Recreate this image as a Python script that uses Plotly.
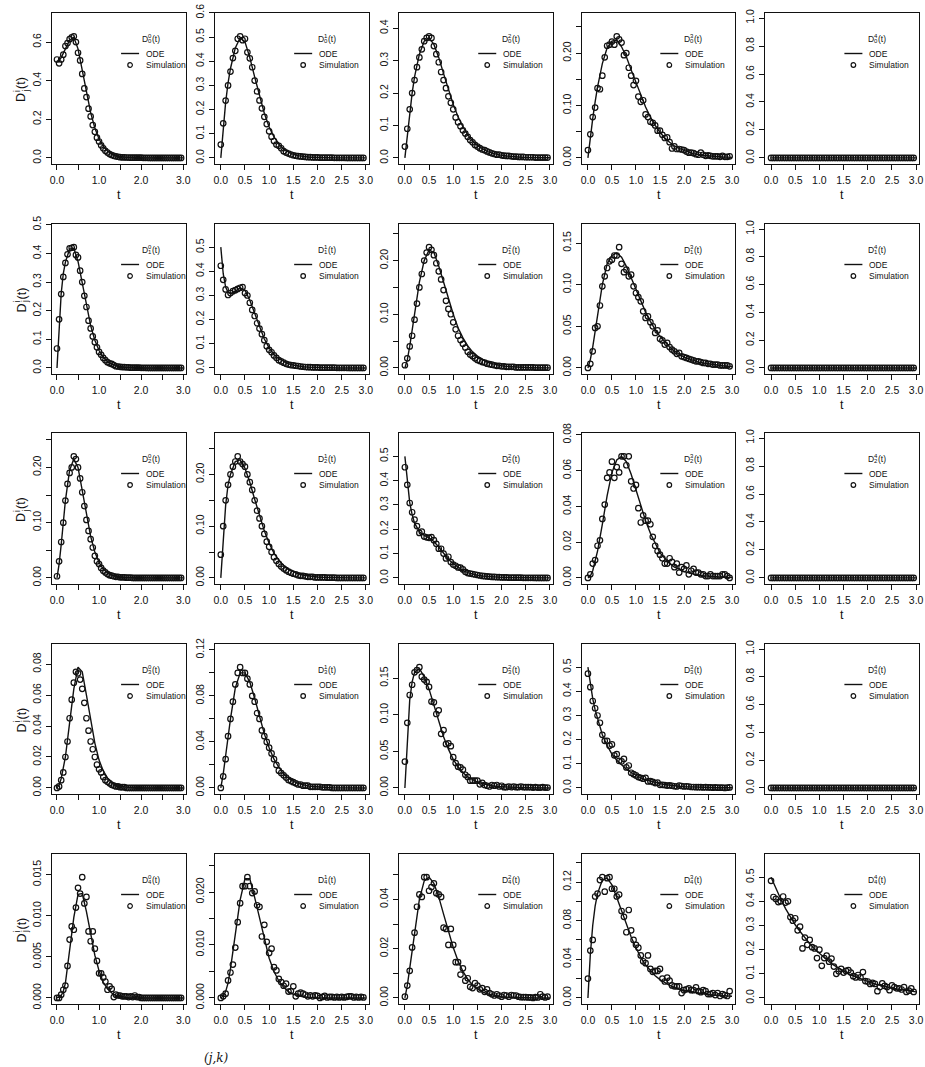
import plotly.graph_objects as go

# ---------------- data ----------------
t_sim = [0.00, 0.05, 0.10, 0.15, 0.20, 0.25, 0.30, 0.35, 0.40, 0.45,
         0.50, 0.55, 0.60, 0.65, 0.70, 0.75, 0.80, 0.85, 0.90, 0.95,
         1.00, 1.05, 1.10, 1.15, 1.20, 1.25, 1.30, 1.35, 1.40, 1.45,
         1.50, 1.55, 1.60, 1.65, 1.70, 1.75, 1.80, 1.85, 1.90, 1.95,
         2.00, 2.05, 2.10, 2.15, 2.20, 2.25, 2.30, 2.35, 2.40, 2.45,
         2.50, 2.55, 2.60, 2.65, 2.70, 2.75, 2.80, 2.85, 2.90, 2.95]
t_ode = [0.0, 0.05, 0.1, 0.15, 0.2, 0.3, 0.4, 0.5, 0.6, 0.7, 0.8, 0.9, 1.0,
         1.1, 1.2, 1.3, 1.4, 1.5, 1.6, 1.7, 1.8, 1.9, 2.0, 2.1, 2.2, 2.3,
         2.4, 2.5, 2.6, 2.7, 2.8, 2.9, 3.0]

# row 0 (j = 0)
sim_00 = [0.51, 0.49, 0.51, 0.535, 0.58, 0.595, 0.615, 0.625, 0.63, 0.60,
          0.545, 0.505, 0.435, 0.36, 0.315, 0.255, 0.215, 0.17, 0.135, 0.105,
          0.085, 0.065, 0.05, 0.037, 0.028, 0.02, 0.015, 0.011, 0.008, 0.006,
          0.004, 0.003, 0.003, 0.002, 0.002, 0.001, 0.001, 0.001, 0.001, 0.001,
          0.001, 0.0005, 0.0005, 0.0005, 0, 0, 0, 0, 0, 0,
          0, 0, 0, 0, 0, 0, 0, 0, 0, 0]
ode_00 = [0.5, 0.505, 0.52, 0.54, 0.565, 0.61, 0.625, 0.565, 0.455, 0.34, 0.235,
          0.155, 0.098, 0.06, 0.036, 0.021, 0.012, 0.007, 0.004, 0.002, 0.001,
          0.0007, 0.0004, 0, 0, 0, 0, 0, 0, 0, 0, 0, 0]
sim_01 = [0.055, 0.143, 0.237, 0.30, 0.357, 0.413, 0.443, 0.493, 0.503, 0.487,
          0.493, 0.437, 0.412, 0.375, 0.32, 0.275, 0.238, 0.205, 0.17, 0.14,
          0.11, 0.088, 0.07, 0.055, 0.05, 0.04, 0.028, 0.022, 0.018, 0.014,
          0.011, 0.009, 0.007, 0.006, 0.005, 0.004, 0.003, 0.003, 0.002, 0.002,
          0.002, 0.001, 0.001, 0.001, 0.001, 0.001, 0.001, 0.0005, 0.0005, 0.0005,
          0.0005, 0.0005, 0, 0, 0, 0, 0, 0, 0, 0]
ode_01 = [0, 0.12, 0.23, 0.31, 0.37, 0.455, 0.497, 0.48, 0.415, 0.335, 0.255,
          0.185, 0.128, 0.087, 0.057, 0.037, 0.024, 0.015, 0.0095, 0.006, 0.004,
          0.0025, 0.0015, 0.001, 0.0006, 0, 0, 0, 0, 0, 0, 0, 0]
sim_02 = [0.035, 0.09, 0.15, 0.2, 0.24, 0.28, 0.31, 0.335, 0.36, 0.37,
          0.375, 0.37, 0.345, 0.32, 0.295, 0.265, 0.24, 0.215, 0.19, 0.17,
          0.15, 0.125, 0.11, 0.098, 0.085, 0.075, 0.065, 0.055, 0.048, 0.04,
          0.035, 0.03, 0.026, 0.024, 0.02, 0.017, 0.014, 0.012, 0.01, 0.01,
          0.008, 0.007, 0.006, 0.006, 0.005, 0.004, 0.004, 0.003, 0.003, 0.003,
          0.002, 0.002, 0.002, 0.002, 0.001, 0.001, 0.001, 0.001, 0.001, 0.001]
ode_02 = [0, 0.07, 0.14, 0.2, 0.25, 0.32, 0.36, 0.37, 0.35, 0.31, 0.26, 0.21,
          0.165, 0.127, 0.096, 0.071, 0.052, 0.038, 0.028, 0.02, 0.015, 0.011,
          0.008, 0.006, 0.0043, 0.0031, 0.0022, 0.0016, 0.0012, 0.0009, 0.0006,
          0.0004, 0.0003]
sim_03 = [0.015, 0.045, 0.078, 0.096, 0.133, 0.131, 0.157, 0.192, 0.214, 0.216,
          0.222, 0.216, 0.232, 0.226, 0.22, 0.196, 0.20, 0.172, 0.157, 0.139,
          0.147, 0.117, 0.107, 0.11, 0.083, 0.078, 0.069, 0.067, 0.062, 0.052,
          0.052, 0.044, 0.038, 0.039, 0.03, 0.018, 0.022, 0.017, 0.017, 0.016,
          0.015, 0.012, 0.01, 0.01, 0.009, 0.007, 0.006, 0.01, 0.006, 0.004,
          0.005, 0.004, 0.003, 0.003, 0.003, 0.002, 0.004, 0.002, 0.002, 0.003]
ode_03 = [0, 0.04, 0.075, 0.107, 0.135, 0.18, 0.21, 0.223, 0.225, 0.212, 0.193,
          0.168, 0.143, 0.118, 0.097, 0.078, 0.062, 0.049, 0.038, 0.03, 0.023,
          0.018, 0.014, 0.011, 0.008, 0.006, 0.005, 0.004, 0.003, 0.0024, 0.0018,
          0.0014, 0.001]
sim_04 = [0, 0, 0, 0, 0, 0, 0, 0, 0, 0, 0, 0, 0, 0, 0, 0, 0, 0, 0, 0,
          0, 0, 0, 0, 0, 0, 0, 0, 0, 0, 0, 0, 0, 0, 0, 0, 0, 0, 0, 0,
          0, 0, 0, 0, 0, 0, 0, 0, 0, 0, 0, 0, 0, 0, 0, 0, 0, 0, 0, 0]
ode_04 = [0, 0, 0, 0, 0, 0, 0, 0, 0, 0, 0, 0, 0, 0, 0, 0, 0, 0, 0, 0, 0, 0,
          0, 0, 0, 0, 0, 0, 0, 0, 0, 0, 0]

# row 1 (j = 1)
sim_10 = [0.068, 0.17, 0.258, 0.318, 0.367, 0.397, 0.418, 0.42, 0.422, 0.395,
          0.386, 0.34, 0.30, 0.252, 0.213, 0.165, 0.138, 0.11, 0.09, 0.072,
          0.056, 0.046, 0.035, 0.027, 0.02, 0.016, 0.014, 0.01, 0.006, 0.005,
          0.004, 0.003, 0.003, 0.002, 0.002, 0.001, 0.001, 0.001, 0.001, 0.001,
          0.0005, 0.0005, 0.0005, 0, 0, 0, 0, 0, 0, 0,
          0, 0, 0, 0, 0, 0, 0, 0, 0, 0]
ode_10 = [0, 0.14, 0.26, 0.33, 0.37, 0.415, 0.418, 0.372, 0.298, 0.218, 0.148,
          0.097, 0.061, 0.037, 0.022, 0.013, 0.008, 0.0045, 0.0025, 0.0015, 0.001,
          0.0006, 0.0003, 0, 0, 0, 0, 0, 0, 0, 0, 0, 0]
sim_11 = [0.423, 0.365, 0.325, 0.302, 0.31, 0.318, 0.322, 0.327, 0.332, 0.335,
          0.31, 0.30, 0.27, 0.24, 0.215, 0.185, 0.163, 0.14, 0.115, 0.09,
          0.075, 0.065, 0.052, 0.042, 0.032, 0.027, 0.022, 0.017, 0.014, 0.012,
          0.011, 0.009, 0.008, 0.006, 0.005, 0.004, 0.003, 0.003, 0.002, 0.002,
          0.002, 0.001, 0.001, 0.001, 0.001, 0.001, 0.001, 0.001, 0.0005, 0.0005,
          0.0005, 0.0005, 0.0005, 0, 0, 0, 0, 0, 0, 0]
ode_11 = [0.5, 0.39, 0.335, 0.312, 0.308, 0.318, 0.332, 0.322, 0.28, 0.225, 0.168,
          0.12, 0.083, 0.056, 0.038, 0.026, 0.017, 0.012, 0.008, 0.005, 0.0035,
          0.0023, 0.0015, 0.001, 0.0007, 0.0005, 0, 0, 0, 0, 0, 0, 0]
sim_12 = [0.005, 0.018, 0.04, 0.06, 0.09, 0.12, 0.15, 0.175, 0.2, 0.215,
          0.225, 0.22, 0.21, 0.195, 0.18, 0.165, 0.145, 0.125, 0.11, 0.1,
          0.085, 0.072, 0.06, 0.052, 0.045, 0.038, 0.03, 0.025, 0.022, 0.018,
          0.015, 0.013, 0.011, 0.01, 0.008, 0.007, 0.006, 0.005, 0.004, 0.004,
          0.003, 0.003, 0.002, 0.002, 0.002, 0.002, 0.001, 0.001, 0.001, 0.001,
          0.001, 0.001, 0.001, 0.001, 0.0005, 0.0005, 0.0005, 0.0005, 0.0005, 0.0005]
ode_12 = [0, 0.015, 0.04, 0.07, 0.1, 0.16, 0.2, 0.22, 0.215, 0.19, 0.16, 0.128,
          0.1, 0.075, 0.056, 0.041, 0.03, 0.022, 0.016, 0.011, 0.008, 0.0057,
          0.004, 0.0029, 0.002, 0.0014, 0.001, 0.0007, 0.0005, 0.0004, 0.0003,
          0.0002, 0.0001]
sim_13 = [0.0, 0.005, 0.02, 0.048, 0.05, 0.075, 0.098, 0.11, 0.12, 0.128,
          0.13, 0.135, 0.135, 0.145, 0.125, 0.115, 0.118, 0.11, 0.112, 0.098,
          0.09, 0.085, 0.08, 0.068, 0.06, 0.062, 0.055, 0.05, 0.042, 0.045,
          0.035, 0.033, 0.028, 0.03, 0.025, 0.022, 0.02, 0.017, 0.018, 0.014,
          0.013, 0.012, 0.011, 0.01, 0.009, 0.008, 0.008, 0.007, 0.006, 0.006,
          0.005, 0.005, 0.004, 0.004, 0.004, 0.003, 0.003, 0.003, 0.003, 0.002]
ode_13 = [0, 0.01, 0.025, 0.045, 0.065, 0.1, 0.125, 0.135, 0.138, 0.133, 0.122,
          0.108, 0.094, 0.08, 0.067, 0.056, 0.046, 0.038, 0.031, 0.025, 0.02,
          0.016, 0.013, 0.011, 0.009, 0.007, 0.006, 0.005, 0.004, 0.0032, 0.0026,
          0.0021, 0.0017]
sim_14 = [0, 0, 0, 0, 0, 0, 0, 0, 0, 0, 0, 0, 0, 0, 0, 0, 0, 0, 0, 0,
          0, 0, 0, 0, 0, 0, 0, 0, 0, 0, 0, 0, 0, 0, 0, 0, 0, 0, 0, 0,
          0, 0, 0, 0, 0, 0, 0, 0, 0, 0, 0, 0, 0, 0, 0, 0, 0, 0, 0, 0]
ode_14 = [0, 0, 0, 0, 0, 0, 0, 0, 0, 0, 0, 0, 0, 0, 0, 0, 0, 0, 0, 0, 0, 0,
          0, 0, 0, 0, 0, 0, 0, 0, 0, 0, 0]

# row 2 (j = 2)
sim_20 = [0.003, 0.03, 0.065, 0.1, 0.14, 0.17, 0.19, 0.2, 0.22, 0.215,
          0.2, 0.18, 0.155, 0.13, 0.105, 0.085, 0.07, 0.055, 0.04, 0.03,
          0.025, 0.018, 0.013, 0.01, 0.007, 0.005, 0.004, 0.003, 0.002, 0.002,
          0.001, 0.001, 0.001, 0.0005, 0.0005, 0.0005, 0, 0, 0, 0,
          0, 0, 0, 0, 0, 0, 0, 0, 0, 0,
          0, 0, 0, 0, 0, 0, 0, 0, 0, 0]
ode_20 = [0, 0.025, 0.06, 0.1, 0.14, 0.195, 0.215, 0.2, 0.16, 0.115, 0.075,
          0.047, 0.028, 0.016, 0.009, 0.005, 0.003, 0.0015, 0.0008, 0.0004,
          0, 0, 0, 0, 0, 0, 0, 0, 0, 0, 0, 0, 0]
sim_21 = [0.045, 0.1, 0.15, 0.18, 0.2, 0.215, 0.225, 0.235, 0.225, 0.22,
          0.215, 0.2, 0.185, 0.17, 0.15, 0.13, 0.115, 0.1, 0.085, 0.07,
          0.06, 0.05, 0.04, 0.033, 0.027, 0.022, 0.018, 0.015, 0.012, 0.01,
          0.008, 0.007, 0.005, 0.004, 0.004, 0.003, 0.002, 0.002, 0.002, 0.001,
          0.001, 0.001, 0.001, 0.001, 0.0005, 0.0005, 0.0005, 0.0005, 0, 0,
          0, 0, 0, 0, 0, 0, 0, 0, 0, 0]
ode_21 = [0, 0.08, 0.14, 0.18, 0.2, 0.225, 0.228, 0.212, 0.185, 0.152, 0.12,
          0.091, 0.067, 0.048, 0.034, 0.024, 0.017, 0.012, 0.008, 0.0055, 0.0038,
          0.0026, 0.0018, 0.0012, 0.0008, 0.0005, 0.0003, 0.0002, 0.0001, 0, 0,
          0, 0]
sim_22 = [0.455, 0.383, 0.308, 0.27, 0.24, 0.213, 0.185, 0.19, 0.17, 0.167,
          0.165, 0.168, 0.155, 0.14, 0.12, 0.12, 0.1, 0.08, 0.087, 0.065,
          0.055, 0.05, 0.043, 0.042, 0.035, 0.025, 0.02, 0.018, 0.016, 0.014,
          0.012, 0.01, 0.008, 0.007, 0.006, 0.005, 0.004, 0.004, 0.003, 0.003,
          0.002, 0.002, 0.002, 0.001, 0.001, 0.001, 0.001, 0.001, 0.001, 0.0005,
          0.0005, 0.0005, 0.0005, 0.0005, 0, 0, 0, 0, 0, 0]
ode_22 = [0.5, 0.39, 0.31, 0.26, 0.225, 0.19, 0.175, 0.165, 0.15, 0.127, 0.1,
          0.077, 0.058, 0.043, 0.031, 0.022, 0.016, 0.011, 0.008, 0.0058, 0.0042,
          0.003, 0.0021, 0.0015, 0.0011, 0.0008, 0.0006, 0.0004, 0.0003, 0.0002,
          0.0001, 0, 0]
sim_23 = [0.0, 0.002, 0.008, 0.01, 0.018, 0.021, 0.033, 0.041, 0.056, 0.059,
          0.065, 0.056, 0.062, 0.059, 0.068, 0.068, 0.063, 0.068, 0.054, 0.05,
          0.052, 0.039, 0.031, 0.035, 0.032, 0.032, 0.03, 0.023, 0.018, 0.015,
          0.013, 0.011, 0.008, 0.008, 0.011, 0.009, 0.006, 0.008, 0.003, 0.006,
          0.005, 0.007, 0.002, 0.004, 0.005, 0.003, 0.003, 0.002, 0.002, 0.001,
          0.001, 0.002, 0.001, 0.001, 0.001, 0.001, 0.002, 0.002, 0.001, 0.0]
ode_23 = [0, 0.001, 0.004, 0.009, 0.015, 0.03, 0.046, 0.059, 0.066, 0.068, 0.065,
          0.058, 0.049, 0.04, 0.032, 0.025, 0.019, 0.014, 0.011, 0.008, 0.006,
          0.005, 0.0035, 0.0027, 0.002, 0.0015, 0.0012, 0.0009, 0.0007, 0.0005,
          0.0004, 0.0003, 0.0002]
sim_24 = [0, 0, 0, 0, 0, 0, 0, 0, 0, 0, 0, 0, 0, 0, 0, 0, 0, 0, 0, 0,
          0, 0, 0, 0, 0, 0, 0, 0, 0, 0, 0, 0, 0, 0, 0, 0, 0, 0, 0, 0,
          0, 0, 0, 0, 0, 0, 0, 0, 0, 0, 0, 0, 0, 0, 0, 0, 0, 0, 0, 0]
ode_24 = [0, 0, 0, 0, 0, 0, 0, 0, 0, 0, 0, 0, 0, 0, 0, 0, 0, 0, 0, 0, 0, 0,
          0, 0, 0, 0, 0, 0, 0, 0, 0, 0, 0]

# row 3 (j = 3)
sim_30 = [0.0, 0.001, 0.005, 0.01, 0.02, 0.03, 0.045, 0.057, 0.068, 0.075,
          0.074, 0.07, 0.064, 0.055, 0.045, 0.037, 0.03, 0.025, 0.02, 0.015,
          0.012, 0.01, 0.007, 0.005, 0.004, 0.003, 0.002, 0.0015, 0.001, 0.001,
          0.0005, 0.0005, 0.0005, 0, 0, 0, 0, 0, 0, 0,
          0, 0, 0, 0, 0, 0, 0, 0, 0, 0,
          0, 0, 0, 0, 0, 0, 0, 0, 0, 0]
ode_30 = [0, 0.002, 0.006, 0.012, 0.02, 0.042, 0.064, 0.078, 0.075, 0.06, 0.043,
          0.029, 0.018, 0.011, 0.0065, 0.0038, 0.0022, 0.0012, 0.0007, 0.0004,
          0.0002, 0, 0, 0, 0, 0, 0, 0, 0, 0, 0, 0, 0]
sim_31 = [0.0, 0.01, 0.025, 0.045, 0.06, 0.075, 0.09, 0.1, 0.105, 0.1,
          0.1, 0.095, 0.09, 0.08, 0.075, 0.065, 0.06, 0.05, 0.045, 0.04,
          0.035, 0.03, 0.025, 0.02, 0.015, 0.013, 0.011, 0.009, 0.007, 0.006,
          0.005, 0.004, 0.003, 0.003, 0.002, 0.002, 0.002, 0.001, 0.001, 0.001,
          0.001, 0.001, 0.0005, 0.0005, 0.0005, 0.0005, 0, 0, 0, 0,
          0, 0, 0, 0, 0, 0, 0, 0, 0, 0]
ode_31 = [0, 0.012, 0.028, 0.045, 0.06, 0.087, 0.1, 0.1, 0.092, 0.078, 0.062,
          0.047, 0.035, 0.025, 0.018, 0.012, 0.0085, 0.0058, 0.004, 0.0027,
          0.0018, 0.0012, 0.0008, 0.0005, 0.0003, 0.0002, 0.0001, 0, 0, 0, 0,
          0, 0]
sim_32 = [0.036, 0.089, 0.127, 0.141, 0.158, 0.161, 0.165, 0.152, 0.148, 0.145,
          0.138, 0.118, 0.117, 0.101, 0.106, 0.074, 0.079, 0.06, 0.061, 0.057,
          0.042, 0.034, 0.029, 0.028, 0.025, 0.018, 0.015, 0.01, 0.01, 0.01,
          0.01, 0.005, 0.007, 0.004, 0.003, 0.002, 0.004, 0.003, 0.004, 0.002,
          0.003, 0.001, 0.001, 0.002, 0.001, 0.002, 0.001, 0.001, 0.002, 0.001,
          0.001, 0.001, 0.001, 0.0005, 0.001, 0.0005, 0.0005, 0.001, 0.0005, 0.0005]
ode_32 = [0, 0.07, 0.12, 0.145, 0.158, 0.163, 0.152, 0.135, 0.113, 0.09, 0.07,
          0.053, 0.039, 0.029, 0.021, 0.015, 0.011, 0.008, 0.006, 0.004, 0.003,
          0.002, 0.0015, 0.001, 0.0007, 0.0005, 0.0004, 0.0003, 0.0002, 0.0001,
          0.0001, 0, 0]
sim_33 = [0.473, 0.417, 0.36, 0.33, 0.30, 0.27, 0.22, 0.195, 0.195, 0.175,
          0.18, 0.135, 0.14, 0.112, 0.11, 0.12, 0.085, 0.093, 0.063, 0.057,
          0.052, 0.045, 0.042, 0.038, 0.042, 0.027, 0.028, 0.025, 0.02, 0.022,
          0.013, 0.013, 0.012, 0.01, 0.011, 0.009, 0.007, 0.006, 0.01, 0.008,
          0.006, 0.007, 0.006, 0.004, 0.004, 0.003, 0.003, 0.003, 0.002, 0.003,
          0.002, 0.002, 0.001, 0.002, 0.001, 0.001, 0.001, 0.0, 0.001, 0.002]
ode_33 = [0.5, 0.43, 0.37, 0.323, 0.285, 0.22, 0.175, 0.14, 0.115, 0.095, 0.078,
          0.064, 0.052, 0.042, 0.034, 0.028, 0.022, 0.018, 0.014, 0.011, 0.009,
          0.007, 0.0055, 0.0044, 0.0035, 0.0027, 0.0021, 0.0017, 0.0013, 0.001,
          0.0008, 0.0006, 0.0005]
sim_34 = [0, 0, 0, 0, 0, 0, 0, 0, 0, 0, 0, 0, 0, 0, 0, 0, 0, 0, 0, 0,
          0, 0, 0, 0, 0, 0, 0, 0, 0, 0, 0, 0, 0, 0, 0, 0, 0, 0, 0, 0,
          0, 0, 0, 0, 0, 0, 0, 0, 0, 0, 0, 0, 0, 0, 0, 0, 0, 0, 0, 0]
ode_34 = [0, 0, 0, 0, 0, 0, 0, 0, 0, 0, 0, 0, 0, 0, 0, 0, 0, 0, 0, 0, 0, 0,
          0, 0, 0, 0, 0, 0, 0, 0, 0, 0, 0]

# row 4 (j = 4)
sim_40 = [0.0, 0.0, 0.0004, 0.001, 0.0015, 0.0039, 0.0071, 0.0087, 0.0083, 0.011,
          0.0134, 0.0127, 0.0147, 0.0115, 0.0123, 0.0081, 0.0069, 0.0081, 0.006, 0.0045,
          0.003, 0.003, 0.0025, 0.002, 0.001, 0.0014, 0.0011, 0.0001, 0.0004, 0.0003,
          0.0003, 0.0002, 0.0002, 0.0002, 0.0001, 0.0002, 0.0001, 0.0003, 0.0001, 0.0001,
          0, 0, 0, 0, 0, 0, 0, 0, 0, 0,
          0, 0, 0, 0, 0, 0, 0, 0, 0, 0]
ode_40 = [0, 0.0001, 0.0003, 0.0008, 0.0018, 0.0055, 0.0098, 0.0126, 0.0127,
          0.0105, 0.0078, 0.0052, 0.0033, 0.0019, 0.0011, 0.0006, 0.0003, 0.00015,
          0.0001, 0, 0, 0, 0, 0, 0, 0, 0, 0, 0, 0, 0, 0, 0]
sim_41 = [0.0, 0.0003, 0.0008, 0.0033, 0.0048, 0.0063, 0.0095, 0.0143, 0.0179, 0.0211,
          0.0211, 0.0228, 0.0211, 0.0198, 0.0201, 0.0175, 0.0172, 0.0116, 0.0138, 0.0106,
          0.0085, 0.0093, 0.0058, 0.0052, 0.0036, 0.003, 0.0023, 0.0027, 0.0012, 0.0013,
          0.0022, 0.0003, 0.0008, 0.001, 0.0008, 0.0006, 0.0003, 0.0005, 0.0003, 0.0005,
          0.0004, 0.0, 0.0002, 0.0004, 0.0001, 0.0002, 0.0002, 0.0001, 0.0002, 0.0001,
          0.0002, 0.0001, 0.0002, 0.0003, 0.0003, 0.0001, 0.0002, 0.0001, 0.0002, 0.0001]
ode_41 = [0, 0.0004, 0.0012, 0.0028, 0.0055, 0.012, 0.0185, 0.0225, 0.0225, 0.019,
          0.015, 0.011, 0.0075, 0.005, 0.0032, 0.002, 0.0012, 0.0007, 0.0004,
          0.0002, 0.0001, 0, 0, 0, 0, 0, 0, 0, 0, 0, 0, 0, 0]
sim_42 = [0.0005, 0.005, 0.011, 0.0205, 0.0265, 0.037, 0.042, 0.041, 0.049, 0.049,
          0.0435, 0.045, 0.0465, 0.0425, 0.042, 0.041, 0.0285, 0.028, 0.0215, 0.028,
          0.0215, 0.0145, 0.0145, 0.0095, 0.012, 0.007, 0.008, 0.0045, 0.004, 0.006,
          0.005, 0.0035, 0.004, 0.0025, 0.0035, 0.002, 0.0015, 0.001, 0.0015, 0.001,
          0.0005, 0.0012, 0.001, 0.0005, 0.0012, 0.001, 0.001, 0.0005, 0.0003, 0.0003,
          0.0003, 0.0002, 0.0002, 0.0, 0.0003, 0.0002, 0.0015, 0.0005, 0.0002, 0.0005]
ode_42 = [0, 0.005, 0.012, 0.019, 0.027, 0.04, 0.0475, 0.049, 0.0465, 0.041, 0.034,
          0.027, 0.0205, 0.015, 0.0108, 0.0076, 0.0053, 0.0037, 0.0025, 0.0017,
          0.0012, 0.0008, 0.0005, 0.0003, 0.0002, 0.0001, 0, 0, 0, 0, 0, 0, 0]
sim_43 = [0.02, 0.049, 0.06, 0.105, 0.108, 0.122, 0.125, 0.11, 0.124, 0.125,
          0.113, 0.113, 0.105, 0.107, 0.09, 0.084, 0.068, 0.091, 0.07, 0.06,
          0.055, 0.052, 0.044, 0.038, 0.036, 0.044, 0.03, 0.027, 0.028, 0.028,
          0.03, 0.02, 0.017, 0.021, 0.018, 0.013, 0.012, 0.012, 0.012, 0.005,
          0.008, 0.009, 0.01, 0.008, 0.008, 0.011, 0.007, 0.006, 0.008, 0.007,
          0.004, 0.004, 0.005, 0.003, 0.005, 0.002, 0.004, 0.003, 0.002, 0.007]
ode_43 = [0, 0.045, 0.075, 0.095, 0.108, 0.122, 0.124, 0.117, 0.104, 0.09, 0.076,
          0.063, 0.052, 0.042, 0.034, 0.028, 0.023, 0.019, 0.016, 0.013, 0.011,
          0.009, 0.008, 0.007, 0.006, 0.005, 0.004, 0.0035, 0.003, 0.0026, 0.0023,
          0.002, 0.0018]
sim_44 = [0.485, 0.418, 0.41, 0.397, 0.4, 0.42, 0.395, 0.4, 0.335, 0.32,
          0.33, 0.28, 0.295, 0.205, 0.25, 0.22, 0.24, 0.21, 0.205, 0.165,
          0.2, 0.133, 0.165, 0.175, 0.15, 0.163, 0.13, 0.1, 0.11, 0.12,
          0.105, 0.112, 0.115, 0.105, 0.09, 0.085, 0.095, 0.085, 0.107, 0.07,
          0.068, 0.058, 0.062, 0.058, 0.028, 0.045, 0.06, 0.05, 0.045, 0.032,
          0.052, 0.045, 0.04, 0.04, 0.035, 0.045, 0.025, 0.03, 0.04, 0.025]
ode_44 = [0.5, 0.476, 0.452, 0.43, 0.41, 0.37, 0.335, 0.303, 0.275, 0.248, 0.225,
          0.203, 0.184, 0.166, 0.15, 0.136, 0.123, 0.111, 0.1, 0.091, 0.083,
          0.075, 0.068, 0.061, 0.055, 0.05, 0.045, 0.041, 0.037, 0.034, 0.03,
          0.027, 0.025]

sim_grid = [[sim_00, sim_01, sim_02, sim_03, sim_04],
            [sim_10, sim_11, sim_12, sim_13, sim_14],
            [sim_20, sim_21, sim_22, sim_23, sim_24],
            [sim_30, sim_31, sim_32, sim_33, sim_34],
            [sim_40, sim_41, sim_42, sim_43, sim_44]]
ode_grid = [[ode_00, ode_01, ode_02, ode_03, ode_04],
            [ode_10, ode_11, ode_12, ode_13, ode_14],
            [ode_20, ode_21, ode_22, ode_23, ode_24],
            [ode_30, ode_31, ode_32, ode_33, ode_34],
            [ode_40, ode_41, ode_42, ode_43, ode_44]]

# axis tick settings
x_tickvals = [0.0, 0.5, 1.0, 1.5, 2.0, 2.5, 3.0]
x_ticktext_full = ["0.0", "0.5", "1.0", "1.5", "2.0", "2.5", "3.0"]
x_ticktext_first = ["0.0", "", "1.0", "", "2.0", "", "3.0"]
y_tick_step = [[0.2, 0.1, 0.1, 0.05, 0.2],
               [0.1, 0.1, 0.05, 0.05, 0.2],
               [0.05, 0.05, 0.1, 0.02, 0.2],
               [0.02, 0.02, 0.05, 0.1, 0.2],
               [0.005, 0.005, 0.01, 0.02, 0.1]]
y_label_every = [[1, 1, 1, 2, 1],
                 [1, 1, 2, 1, 1],
                 [2, 2, 1, 1, 1],
                 [1, 2, 1, 1, 1],
                 [1, 2, 2, 2, 1]]
y_decimals = [[1, 1, 1, 2, 1],
              [1, 1, 2, 2, 1],
              [2, 2, 1, 2, 1],
              [2, 2, 2, 1, 1],
              [3, 3, 2, 2, 1]]

# ---------------- layout ----------------
# Target positions are reference-picture pixels.  The photographed page shows
# the figure slightly scaled and offset, so targets are mapped back to figure
# pixels before being converted to paper fractions.
FW, FH = 925, 1067
SX, OX = 0.992, 1.0
SY, OY = 0.985, 9.5
col_px = [(51, 185), (214, 368), (398, 552), (581, 734), (764, 918)]
row_px = [(12, 163), (223, 373), (432, 583), (643, 793), (853, 1003)]
FONT = "Liberation Sans, Arial, Helvetica, sans-serif"
INK = "#111111"


def fxp(px):
    return min(1.0, max(0.0, (px - OX) / SX / FW))


def fyp(py):
    return min(1.0, max(0.0, 1 - (py - OY) / SY / FH))


fig = go.Figure()
annotations = []
shapes = []
layout_axes = {}


def ann(**kw):
    base = dict(showarrow=False, font=dict(family=FONT, size=10, color=INK))
    base.update(kw)
    annotations.append(base)


for r in range(5):
    for c in range(5):
        n = r * 5 + c + 1
        xa = "x" if n == 1 else f"x{n}"
        ya = "y" if n == 1 else f"y{n}"
        xkey = "xaxis" if n == 1 else f"xaxis{n}"
        ykey = "yaxis" if n == 1 else f"yaxis{n}"
        sim = sim_grid[r][c]
        ode = ode_grid[r][c]

        fig.add_trace(go.Scatter(x=t_ode, y=ode, mode="lines",
                                 line=dict(color=INK, width=1.4),
                                 xaxis=xa, yaxis=ya, showlegend=False,
                                 hoverinfo="skip"))
        fig.add_trace(go.Scatter(x=t_sim, y=sim, mode="markers",
                                 marker=dict(symbol="circle-open", size=5.5,
                                             color=INK,
                                             line=dict(width=1.2, color=INK)),
                                 xaxis=xa, yaxis=ya, showlegend=False))

        m = max(max(sim), max(ode))
        top = 1.15 * m if m > 0 else 1.0
        pad = 0.04 * top
        yr = [-pad, top + pad]
        step = y_tick_step[r][c]
        vals, texts = [], []
        k = 0
        while k * step <= yr[1] + 1e-12:
            v = round(k * step, 6)
            vals.append(v)
            texts.append(f"{v:.{y_decimals[r][c]}f}" if k % y_label_every[r][c] == 0 else "")
            k += 1

        x0, x1 = col_px[c]
        y0, y1 = row_px[r]
        common = dict(showgrid=False, zeroline=False, showline=True, mirror=True,
                      linecolor=INK, linewidth=1, ticks="outside", ticklen=5,
                      tickwidth=1, tickcolor=INK,
                      tickfont=dict(family=FONT, size=10.5, color=INK))
        layout_axes[xkey] = dict(common, domain=[fxp(x0), fxp(x1)],
                                 range=[-0.118, 3.068], anchor=ya,
                                 tickmode="array", tickvals=x_tickvals,
                                 ticktext=x_ticktext_first if c == 0 else x_ticktext_full,
                                 ticklabelstandoff=2)
        layout_axes[ykey] = dict(common, domain=[fyp(y1), fyp(y0)],
                                 range=yr, anchor=xa, tickmode="array",
                                 tickvals=vals, ticktext=texts, tickangle=-90,
                                 ticklabelstandoff=1)

        # x-axis title "t"
        ann(text="t", xref="paper", yref="paper", x=fxp((x0 + x1) / 2),
            y=fyp(y1 + 31), xanchor="center", yanchor="middle",
            font=dict(family=FONT, size=12.5, color=INK))

        # legend drawn inside the panel, top-right
        if c == 0:
            t_c, l0, l1, cc, tx = -36, -65, -47, -56, -42
        else:
            t_c, l0, l1, cc, tx = -43, -75, -57, -66, -52
        xd = f"{xa} domain"
        yd = f"{ya} domain"
        ann(text="D", xref=xd, yref=yd, x=1, y=1, xshift=t_c - 5, yshift=-26,
            xanchor="center", yanchor="middle",
            font=dict(family=FONT, size=8.5, color=INK))
        ann(text=str(c), xref=xd, yref=yd, x=1, y=1, xshift=t_c - 0.5, yshift=-23.5,
            xanchor="center", yanchor="middle",
            font=dict(family=FONT, size=6, color=INK))
        ann(text=str(r), xref=xd, yref=yd, x=1, y=1, xshift=t_c - 0.5, yshift=-28.8,
            xanchor="center", yanchor="middle",
            font=dict(family=FONT, size=6, color=INK))
        ann(text="(t)", xref=xd, yref=yd, x=1, y=1, xshift=t_c + 6, yshift=-26,
            xanchor="center", yanchor="middle",
            font=dict(family=FONT, size=8.5, color=INK))
        shapes.append(dict(type="line", xref=xd, yref=yd, xsizemode="pixel",
                           ysizemode="pixel", xanchor=1, yanchor=1,
                           x0=l0, x1=l1, y0=-41, y1=-41,
                           line=dict(color=INK, width=1.4)))
        shapes.append(dict(type="circle", xref=xd, yref=yd, xsizemode="pixel",
                           ysizemode="pixel", xanchor=1, yanchor=1,
                           x0=cc - 2.3, x1=cc + 2.3, y0=-52.5 - 2.3, y1=-52.5 + 2.3,
                           line=dict(color=INK, width=1.2)))
        ann(text="ODE", xref=xd, yref=yd, x=1, y=1, xshift=tx, yshift=-41,
            xanchor="left", yanchor="middle",
            font=dict(family=FONT, size=8.5, color=INK))
        ann(text="Simulation", xref=xd, yref=yd, x=1, y=1, xshift=tx, yshift=-52.5,
            xanchor="left", yanchor="middle",
            font=dict(family=FONT, size=8.5, color=INK))

    # y-axis title for the first column: D_j^i(t)
    yc = sum(row_px[r]) / 2
    ann(text="D", xref="paper", yref="paper", x=fxp(20), y=fyp(yc + 10),
        textangle=-90, xanchor="center", yanchor="middle",
        font=dict(family=FONT, size=12.5, color=INK))
    ann(text="i", xref="paper", yref="paper", x=fxp(15.5), y=fyp(yc + 3.5),
        textangle=-90, xanchor="center", yanchor="middle",
        font=dict(family=FONT, size=8.5, color=INK))
    ann(text="j", xref="paper", yref="paper", x=fxp(24), y=fyp(yc + 3.5),
        textangle=-90, xanchor="center", yanchor="middle",
        font=dict(family=FONT, size=8.5, color=INK))
    ann(text="(t)", xref="paper", yref="paper", x=fxp(20), y=fyp(yc - 5),
        textangle=-90, xanchor="center", yanchor="middle",
        font=dict(family=FONT, size=12.5, color=INK))

# partially visible caption at the bottom edge
ann(text="<i>(j,k)</i>", xref="paper", yref="paper", x=fxp(215), y=fyp(1057),
    xanchor="center", yanchor="middle",
    font=dict(family="DejaVu Serif, Liberation Serif, serif", size=12, color=INK))

fig.update_layout(width=FW, height=FH, margin=dict(l=0, r=0, t=0, b=0),
                  paper_bgcolor="white", plot_bgcolor="white",
                  showlegend=False, annotations=annotations, shapes=shapes,
                  **layout_axes)

fig.write_html("out.html")
